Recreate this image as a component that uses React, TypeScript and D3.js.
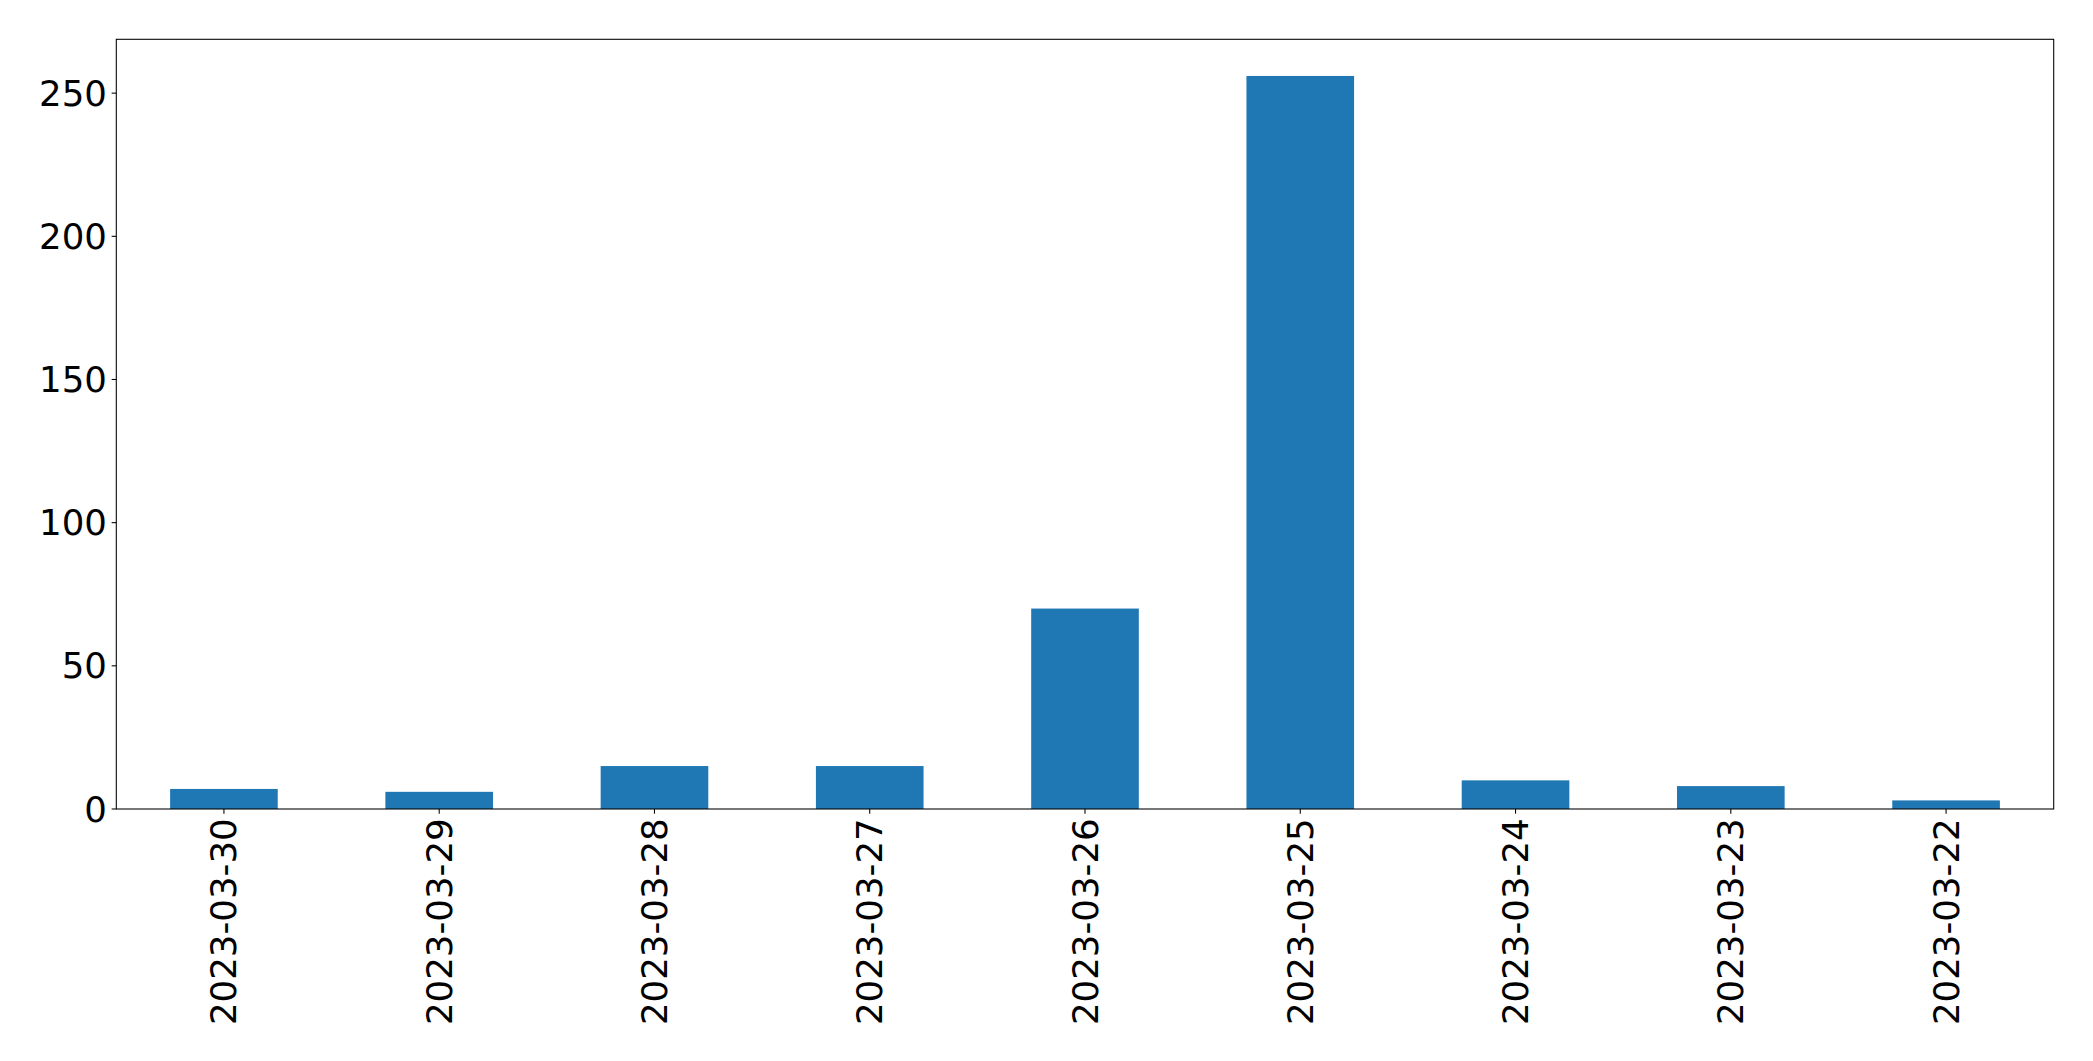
import { useEffect } from "react";
import * as d3 from "d3";

const dates = [
  "2023-03-30",
  "2023-03-29",
  "2023-03-28",
  "2023-03-27",
  "2023-03-26",
  "2023-03-25",
  "2023-03-24",
  "2023-03-23",
  "2023-03-22",
];
const counts = [7, 6, 15, 15, 70, 256, 10, 8, 3];
const yTicks = [0, 50, 100, 150, 200, 250];

const width = 2093;
const height = 1061;
const margin = { top: 39.3, right: 2093 - 2053.7, bottom: 1061 - 809, left: 116.3 };
const fontSize = 35.6;
const tickLen = 4.67;
const pad = 4.67;

export default function App() {
  useEffect(() => {
    document.body.style.margin = "0";
  }, []);

  const x = d3
    .scaleBand<string>()
    .domain(dates)
    .range([margin.left, width - margin.right])
    .paddingInner(0.5)
    .paddingOuter(0.25);

  const yMax = (d3.max(counts) ?? 0) * 1.05;
  const y = d3
    .scaleLinear()
    .domain([0, yMax])
    .range([height - margin.bottom, margin.top]);

  const x0 = margin.left;
  const x1 = width - margin.right;
  const y0 = height - margin.bottom;
  const y1 = margin.top;
  const font = "'DejaVu Sans', sans-serif";

  return (
    <svg width={width} height={height} style={{ display: "block", background: "#fff" }}>
      {dates.map((d, i) => (
        <rect
          key={d}
          x={x(d)}
          y={y(counts[i])}
          width={x.bandwidth()}
          height={y(0) - y(counts[i])}
          fill="#1f77b4"
        />
      ))}
      <rect
        x={x0}
        y={y1}
        width={x1 - x0}
        height={y0 - y1}
        fill="none"
        stroke="#000"
        strokeWidth={1.07}
      />
      {yTicks.map((t) => (
        <g key={t}>
          <line x1={x0 - tickLen} x2={x0} y1={y(t)} y2={y(t)} stroke="#000" strokeWidth={1.07} />
          <text
            x={x0 - tickLen - pad}
            y={y(t)}
            textAnchor="end"
            dominantBaseline="central"
            fontFamily={font}
            fontSize={fontSize}
            fill="#000"
          >
            {t}
          </text>
        </g>
      ))}
      {dates.map((d) => {
        const cx = (x(d) ?? 0) + x.bandwidth() / 2;
        const ty = y0 + tickLen + pad;
        return (
          <g key={d}>
            <line x1={cx} x2={cx} y1={y0} y2={y0 + tickLen} stroke="#000" strokeWidth={1.07} />
            <text
              transform={`translate(${cx},${ty}) rotate(-90)`}
              textAnchor="end"
              dominantBaseline="central"
              fontFamily={font}
              fontSize={fontSize}
              fill="#000"
            >
              {d}
            </text>
          </g>
        );
      })}
    </svg>
  );
}
